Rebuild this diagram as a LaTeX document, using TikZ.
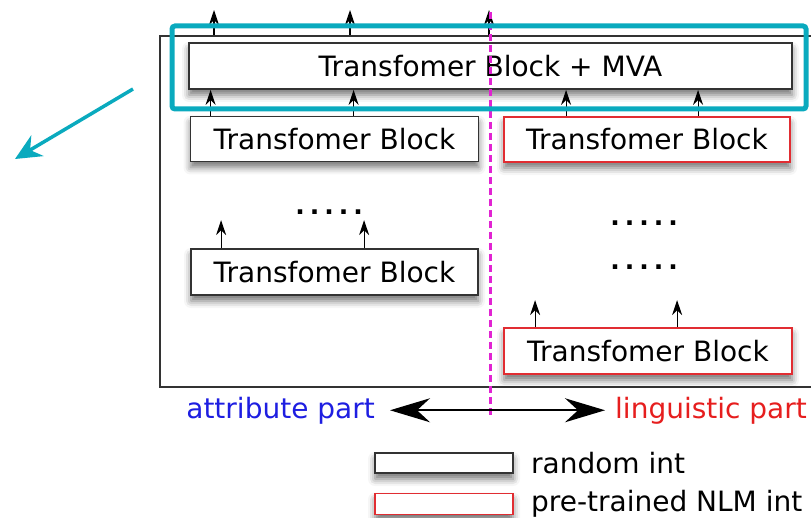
\documentclass[tikz,border=0pt]{standalone}
\usepackage{fontspec}
\setmainfont{DejaVu Sans}
\usepackage{tikz}
\usetikzlibrary{positioning}
\usetikzlibrary{arrows.meta}
\usetikzlibrary{calc}
\usetikzlibrary{shadows.blur}
\definecolor{bleucanard}{RGB}{10,170,190}
\definecolor{rougebloc}{RGB}{225,45,50}
\definecolor{bleutexte}{RGB}{30,30,225}
\definecolor{rougetexte}{RGB}{230,30,30}
\definecolor{magentatrait}{RGB}{225,35,210}
\newcommand{\taillebloc}{\fontsize{28}{34}\selectfont}

\begin{document}
\begin{tikzpicture}[x=1pt,y=-1pt]
% définition des paramètres
\tikzstyle bloc=[draw=black!80,line width=1.8pt,fill=white,inner sep=0pt,font=\taillebloc,blur shadow={shadow xshift=0pt,shadow yshift=-6pt,shadow blur radius=7pt,shadow opacity=55}]
\tikzstyle blocrouge=[bloc,draw=rougebloc]
\tikzstyle fleche=[black,line width=1.2pt,-{Stealth[length=15pt,width=10pt]}]
\tikzstyle points=[inner sep=0pt,font=\fontsize{25}{30}\bfseries\selectfont]
\tikzstyle legende=[inner sep=0pt,font=\taillebloc]
\clip (0,0) rectangle (811,518);
% le cadre
\node[draw=black!80,line width=1.6pt,minimum width=690,minimum height=351,anchor=north west,inner sep=0pt] (cadre) at (159,35) {};
% les blocs
\node[bloc,minimum width=603,minimum height=46] (mva) at (490.5,66) {Transfomer Block + MVA};
\node[bloc,minimum width=288,minimum height=45] (tbA) at (334.5,139) {Transfomer Block};
\node[blocrouge,minimum width=286,minimum height=45] (tbB) at (647,139.5) {Transfomer Block};
\node[bloc,minimum width=287,minimum height=46] (tbC) at (334.5,272) {Transfomer Block};
\node[blocrouge,minimum width=288,minimum height=46] (tbD) at (648,351) {Transfomer Block};
% les points
\node[points] (ptsA) at (329,212) {.\kern5pt.\kern5pt.\kern5pt.\kern5pt.};
\node[points] (ptsB) at (644,223) {.\kern5pt.\kern5pt.\kern5pt.\kern5pt.};
\node[points] (ptsC) at (644,267) {.\kern5pt.\kern5pt.\kern5pt.\kern5pt.};
% les flèches
\foreach \x in {55,191,330}
    \draw[fleche] ([xshift=\x pt]cadre.north west) -- ++(0,-25);
\foreach \x in {21,164}
    \draw[fleche] ([xshift=\x pt]tbA.north west) -- ([xshift=\x pt]tbA.north west |- mva.south);
\foreach \x in {63,195}
    \draw[fleche] ([xshift=\x pt]tbB.north west) -- ([xshift=\x pt]tbB.north west |- mva.south);
\foreach \x in {31,174}
    \draw[fleche] ([xshift=\x pt]tbC.north west) -- ++(0,-28);
\foreach \x in {32,174}
    \draw[fleche] ([xshift=\x pt]tbD.north west) -- ++(0,-27);
% la séparation
\draw[magentatrait,line width=3pt,dash pattern=on 7pt off 4pt] (490,12) -- (490,418);
% les deux parties
\node[legende,anchor=base east,text=bleutexte] (attr) at (375,418) {attribute part};
\node[legende,anchor=base west,text=rougetexte] (ling) at (615,418) {linguistic part};
\draw[line width=1.8pt,{Stealth[length=40pt,width=24pt]}-{Stealth[length=40pt,width=24pt]}] ([xshift=15pt]attr.east) -- ([xshift=-10pt]ling.west);
% la légende
\node[bloc,minimum width=138,minimum height=20] (legnoir) at (444,463) {};
\node[blocrouge,minimum width=138,minimum height=21] (legrouge) at (444,504) {};
\node[legende,right=17pt of legnoir] (txtnoir) {random int};
\node[legende,right=17pt of legrouge] (txtrouge) {pre-trained NLM int};
% le cadre bleu
\node[draw=bleucanard,line width=5pt,rounded corners=3pt,minimum width=634,minimum height=83,inner sep=0pt] (surligne) at (489,67.5) {};
\coordinate (depart) at (133,89);
\coordinate (pointe) at (15,159);
\draw[bleucanard,line width=3.5pt,-{Stealth[length=26pt,width=24pt]}] (depart) -- (pointe);
\end{tikzpicture}
\end{document}
